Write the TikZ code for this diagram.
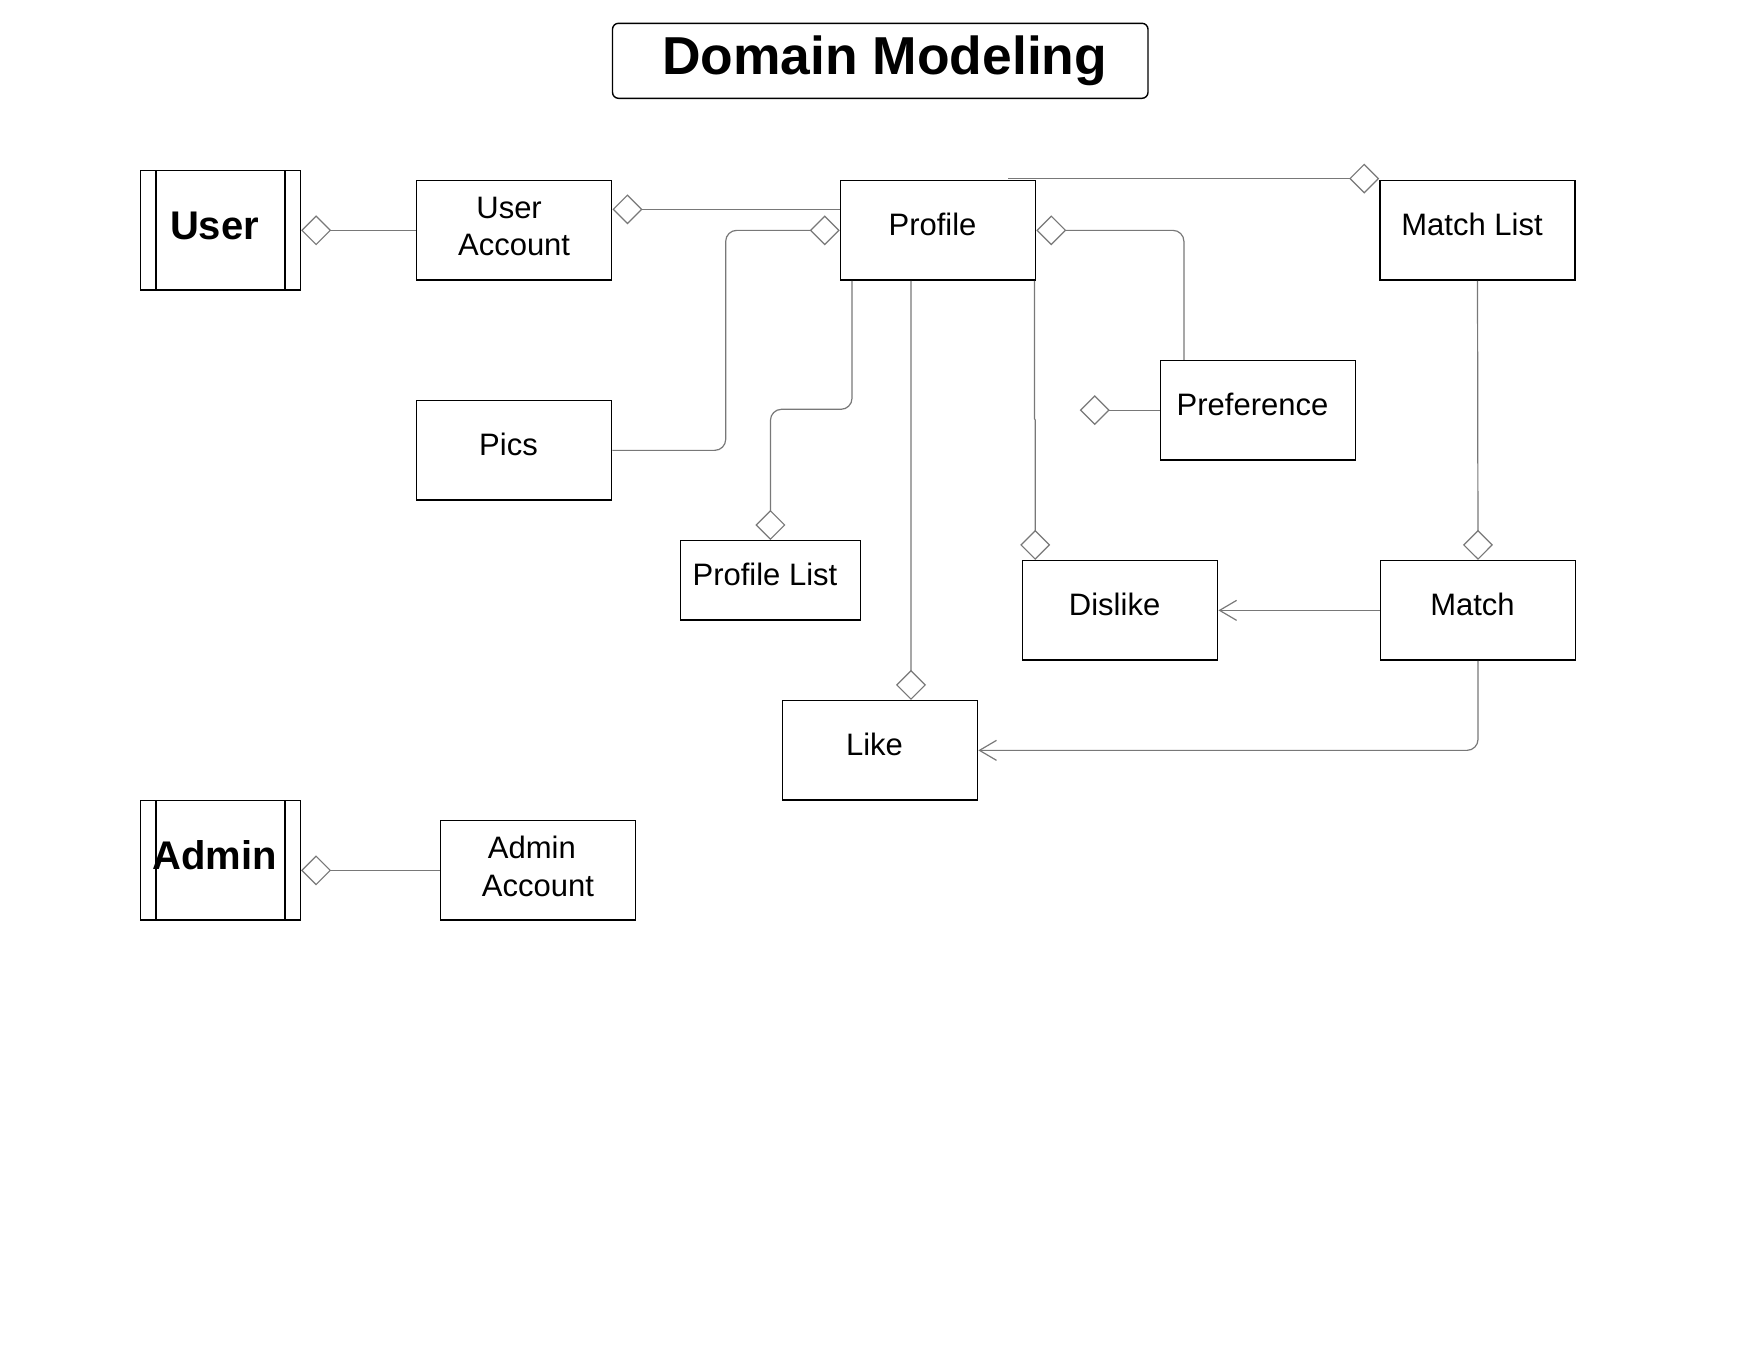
\documentclass[tikz,border=0pt]{standalone}
\usepackage{fontspec}
\setmainfont{Liberation Sans}
\usetikzlibrary{arrows.meta,calc}
\definecolor{conngray}{RGB}{120,120,120}
\begin{document}
\begin{tikzpicture}[x=0.5pt,y=-0.5pt,
  box/.style={draw=black, line width=0.7pt, inner sep=0pt, minimum width=97.6pt, minimum height=49.7pt,
    font=\fontsize{15.5pt}{18pt}\selectfont, text depth=6pt, execute at end node={\hspace*{5.5pt}}},
  twoline/.style={draw=black, line width=0.7pt, inner sep=0pt, minimum width=97.6pt, minimum height=49.7pt,
    font=\fontsize{15.5pt}{18.6pt}\selectfont, align=center, execute at end node={\rule[-4pt]{0pt}{4pt}}},
  actor/.style={draw=black, line width=0.7pt, inner sep=0pt, minimum width=79.85pt, minimum height=59.65pt,
    font=\bfseries\fontsize{20pt}{24pt}\selectfont, text depth=5pt, execute at end node={\hspace*{6pt}}},
  actorbar/.style={draw=black, line width=0.7pt},
  conn/.style={draw=conngray, line width=0.6pt},
  aggr/.style={conn, -{Diamond[open, length=15pt, width=15pt]}},
  nav/.style={conn, -{Straight Barb[length=8.5pt, width=10pt]}},
]
\fill[white] (0,0) rectangle (1760,1360);
\useasboundingbox (0,0) rectangle (1760,1360);

% title
\node[draw=black, rounded corners=3pt, line width=0.7pt, minimum width=267.75pt, minimum height=37.5pt,
  inner sep=0pt, font=\bfseries\fontsize{26.7pt}{30pt}\selectfont, text height=18.5pt, text depth=5.3pt]
  (title) at (880.25,60.8) {\hspace*{4.5pt}Domain Modeling};

% actors
\node[actor] (user) at (220.55,230.35) {User};
\draw[actorbar] ($(user.north west)+(15.8,0)$) -- ($(user.south west)+(15.8,0)$);
\draw[actorbar] ($(user.north east)+(-16,0)$) -- ($(user.south east)+(-16,0)$);
\node[actor] (admin) at (220.55,860.35) {Admin};
\draw[actorbar] ($(admin.north west)+(15.8,0)$) -- ($(admin.south west)+(15.8,0)$);
\draw[actorbar] ($(admin.north east)+(-16,0)$) -- ($(admin.south east)+(-16,0)$);

% classes
\node[twoline] (ua) at (514.1,230.35) {User\hspace*{5pt}\\Account};
\node[box] (prof) at (938,230.35) {Profile};
\node[box] (ml) at (1477.5,230.35) {Match List};
\node[box] (pics) at (514,450.35) {Pics};
\node[box] (pref) at (1258,410.15) {Preference};
\node[box, minimum width=90pt, minimum height=39.65pt] (plist) at (770.45,580.35) {Profile List};
\node[box] (dislike) at (1120.1,610.35) {Dislike};
\node[box] (match) at (1478,610.35) {Match};
\node[box] (like) at (880,750.35) {Like};
\node[twoline] (aa) at (537.9,870.35) {Admin\hspace*{6pt}\\Account};

% connectors
\draw[aggr] (ua.west) -- (user.east);
\draw[aggr] ($(prof.west)+(0,-21)$) -- ($(ua.east)+(0,-21)$);
\draw[aggr, rounded corners=5.5pt] (pics.east) -| ($(prof.west)+(-114,0)$) -- (prof.west);
\draw[aggr, rounded corners=5.5pt] ($(prof.south west)+(12.3,0)$) |- ($(plist.north)+(0,-130.7)$) -- (plist.north);
\draw[aggr] ($(prof.south west)+(71.2,0)$) -- ($(like.north west)+(129.3,0)$);
\draw[aggr] ($(prof.south east)+(-1.8,0)$) -- ($(prof.south east)+(-1.8,138)$)
  -- ($(dislike.north west)+(13.4,-140)$) -- ($(dislike.north west)+(13.4,0)$);
\draw[aggr, rounded corners=5.5pt] ($(pref.north west)+(24.2,0)$) |- (prof.east);
\coordinate (dang) at ($(pref.west)+(-80,0)$);
\draw[aggr] (pref.west) -- (dang);
\draw[aggr] ($(prof.north east)+(-28,-1.4)$) -- ($(ml.north west)+(0,-1.4)$);
\draw[aggr] (ml.south) -- (match.north);
\draw[nav] (match.west) -- (dislike.east);
\draw[nav, rounded corners=5.5pt] (match.south) |- (like.east);
\draw[aggr] (aa.west) -- (aa.west -| admin.east);
\end{tikzpicture}
\end{document}
